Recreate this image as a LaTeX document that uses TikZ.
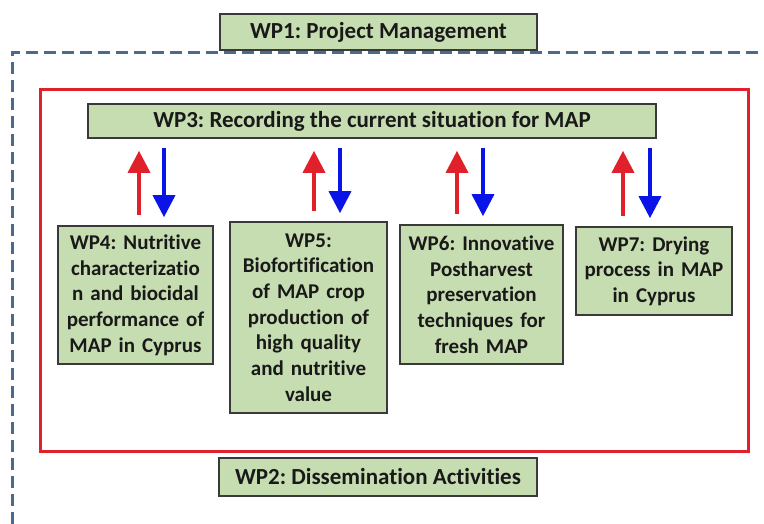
\documentclass[tikz,border=0pt]{standalone}
\usepackage{fontspec}
\setmainfont{Carlito}[Ligatures=CommonOff]
\usepackage{tikz}
\usetikzlibrary{arrows.meta}
\usetikzlibrary{positioning}
\frenchspacing
\definecolor{wpgreen}{HTML}{C6DDB1}
\definecolor{wpborder}{HTML}{3A3A3A}
\definecolor{wpred}{HTML}{E0202A}
\definecolor{wpblue}{HTML}{0A14E6}
\definecolor{wpdash}{HTML}{4A6A8E}
\tikzstyle{wpbox}=[draw=wpborder,line width=1.6pt,fill=wpgreen,align=center,inner xsep=2pt,inner ysep=2pt,text=black!90,font=\bfseries\fontsize{21}{25.7}\selectfont]
\tikzstyle{wptitle}=[wpbox,font=\bfseries\fontsize{23}{27}\selectfont]
\tikzstyle{uparrow}=[draw=wpred,line width=3.5pt,-{Triangle[width=22pt,length=22pt]}]
\tikzstyle{downarrow}=[draw=wpblue,line width=3.5pt,-{Triangle[width=22pt,length=22pt]}]

\begin{document}
\begin{tikzpicture}[x=1pt,y=1pt]
	\path[use as bounding box,clip] (0,0) rectangle (764,-523);
	\draw[wpdash,line width=3pt,dash pattern=on 12pt off 6pt] (776,-52) -- (12,-52) -- (12,-535);
	\draw[wpred,line width=3pt] (40,-89) rectangle (748,-451);
	\node [wptitle,minimum width=317pt,minimum height=36pt] (wpone) at (378.5,-32) {WP1: Project Management};
	\node [wptitle,minimum width=568pt,minimum height=34pt] (wpthree) at (372,-121) {WP3: Recording the current situation for MAP};
	\node [wpbox,text width=151pt,minimum height=138pt] (wpfour) at (135.5,-295) {WP4: Nutritive\\characterizatio\\n and biocidal\\performance of\\MAP in Cyprus};
	\node [wpbox,text width=153pt,minimum height=191pt] (wpfive) at (308.5,-317.5) {WP5:\\Biofortification\\of MAP crop\\production of\\high quality\\and nutritive\\value};
	\node [wpbox,text width=159pt,minimum height=139pt] (wpsix) at (481.5,-294.5) {WP6: Innovative\\Postharvest\\preservation\\techniques for\\fresh MAP};
	\node [wpbox,text width=152pt,minimum height=88pt] (wpseven) at (654,-271) {WP7: Drying\\process in MAP\\in Cyprus};
	\node [wptitle,minimum width=318pt,minimum height=38pt] (wptwo) at (378,-477) {WP2: Dissemination Activities};
	\foreach \b/\dr/\db in {wpfour/3.5/28.5,wpfive/5.5/31.5,wpsix/-24.5/1.5,wpseven/-31/-4}{
		\draw[uparrow,shorten <=10pt,shorten >=12pt] ([xshift=\dr pt]\b.north) -- ([xshift=\dr pt]\b.north |- wpthree.south);
		\draw[downarrow,shorten <=9pt,shorten >=8pt] ([xshift=\db pt]\b.north |- wpthree.south) -- ([xshift=\db pt]\b.north);
	}
\end{tikzpicture}
\end{document}
